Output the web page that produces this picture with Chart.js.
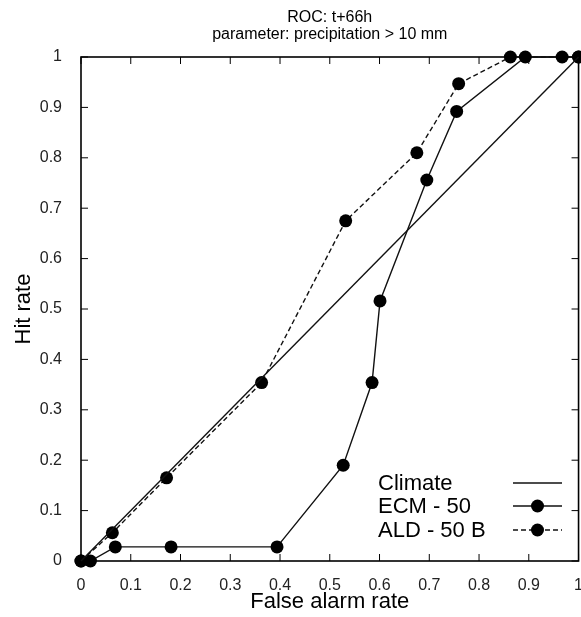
<!DOCTYPE html>
<html>
<head>
<meta charset="utf-8">
<script src="https://cdn.jsdelivr.net/npm/chart.js@4"></script>
<style>
  html, body { margin: 0; padding: 0; background: #fff; overflow: hidden; }
  canvas { display: block; }
</style>
</head>
<body>
<canvas id="roc" width="590" height="617"></canvas>
<script>
// ROC curve data (false alarm rate vs hit rate)
const climateX = [0, 1];
const climateY = [0, 1];

const ecmX = [0, 0.019, 0.069, 0.181, 0.394, 0.527, 0.585, 0.601, 0.695, 0.755, 0.893, 0.967, 1];
const ecmY = [0, 0, 0.028, 0.028, 0.028, 0.19, 0.354, 0.516, 0.756, 0.892, 1, 1, 1];

const aldX = [0, 0.063, 0.172, 0.363, 0.532, 0.675, 0.759, 0.863, 1];
const aldY = [0, 0.056, 0.165, 0.354, 0.675, 0.81, 0.947, 1, 1];

const tickValues = [0, 0.1, 0.2, 0.3, 0.4, 0.5, 0.6, 0.7, 0.8, 0.9, 1];
const titleLines = ['ROC: t+66h', 'parameter: precipitation > 10 mm'];
const legendLabels = ['Climate', 'ECM - 50', 'ALD - 50 B'];

const FONT = '"Liberation Sans", Arial, sans-serif';
const INK = '#111';

const toPoints = (xs, ys) => xs.map((x, i) => ({ x: x, y: ys[i] }));

// gnuplot style frame with inward ticks + legend in the bottom right
const framePlugin = {
    id: 'frame',
    beforeDatasetsDraw(chart) {
        const { ctx, chartArea: a, scales } = chart;
        ctx.save();
        ctx.strokeStyle = '#000';
        ctx.lineWidth = 1;
        ctx.beginPath();
        tickValues.forEach(v => {
            const px = scales.x.getPixelForValue(v);
            const py = scales.y.getPixelForValue(v);
            ctx.moveTo(px, a.bottom); ctx.lineTo(px, a.bottom - 7);
            ctx.moveTo(px, a.top); ctx.lineTo(px, a.top + 7);
            ctx.moveTo(a.left, py); ctx.lineTo(a.left + 7, py);
            ctx.moveTo(a.right, py); ctx.lineTo(a.right - 7, py);
        });
        ctx.stroke();
        ctx.lineWidth = 1.6;
        ctx.strokeRect(a.left, a.top, a.right - a.left, a.bottom - a.top);
        ctx.restore();
    },
    afterDraw(chart) {
        const { ctx } = chart;
        const rows = [483, 506, 530];
        ctx.save();
        ctx.font = '22px ' + FONT;
        ctx.fillStyle = '#000';
        ctx.textBaseline = 'middle';
        ctx.textAlign = 'left';
        legendLabels.forEach((label, i) => {
            const ds = chart.data.datasets[i];
            const y = rows[i];
            ctx.fillText(label, 378, y + 1);
            ctx.strokeStyle = ds.borderColor;
            ctx.lineWidth = ds.borderWidth;
            ctx.setLineDash(ds.borderDash || []);
            ctx.beginPath();
            ctx.moveTo(513, y);
            ctx.lineTo(562, y);
            ctx.stroke();
            ctx.setLineDash([]);
            if (ds.pointRadius > 0) {
                ctx.fillStyle = '#000';
                ctx.beginPath();
                ctx.arc(537.5, y, ds.pointRadius, 0, Math.PI * 2);
                ctx.fill();
            }
        });
        ctx.restore();
    }
};

new Chart(document.getElementById('roc'), {
    type: 'scatter',
    data: {
        datasets: [
            {
                label: legendLabels[0],
                data: toPoints(climateX, climateY),
                showLine: true,
                borderColor: INK,
                borderWidth: 1.4,
                pointRadius: 0,
                clip: false
            },
            {
                label: legendLabels[1],
                data: toPoints(ecmX, ecmY),
                showLine: true,
                borderColor: INK,
                borderWidth: 1.4,
                pointRadius: 6.5,
                pointBorderWidth: 0,
                pointBackgroundColor: '#000',
                clip: false
            },
            {
                label: legendLabels[2],
                data: toPoints(aldX, aldY),
                showLine: true,
                borderColor: INK,
                borderWidth: 1.4,
                borderDash: [5, 3],
                pointRadius: 6.5,
                pointBorderWidth: 0,
                pointBackgroundColor: '#000',
                clip: false
            }
        ]
    },
    options: {
        responsive: false,
        devicePixelRatio: 1,
        animation: false,
        layout: { padding: { left: 0, right: 8, top: 0, bottom: 0 } },
        plugins: {
            legend: { display: false },
            tooltip: { enabled: false },
            title: { display: false }
        },
        scales: {
            x: {
                type: 'linear',
                position: 'bottom',
                min: 0,
                max: 1,
                afterFit: s => { s.height = 56; },
                afterBuildTicks: s => { s.ticks = tickValues.map(v => ({ value: v })); },
                ticks: {
                    padding: 7,
                    color: '#222',
                    font: { family: FONT, size: 16 },
                    maxRotation: 0,
                    autoSkip: false,
                    callback: v => String(Math.round(v * 10) / 10)
                },
                grid: { display: false },
                border: { display: false },
                title: {
                    display: true,
                    text: 'False alarm rate',
                    color: '#000',
                    font: { family: FONT, size: 22 },
                    padding: { top: 0, bottom: 2 }
                }
            },
            top: {
                type: 'linear',
                position: 'top',
                min: 0,
                max: 1,
                afterFit: s => { s.height = 57; },
                ticks: { display: false },
                grid: { display: false },
                border: { display: false },
                title: {
                    display: true,
                    text: titleLines,
                    color: '#000',
                    font: { family: FONT, size: 16, lineHeight: 1.07 },
                    padding: { top: 9, bottom: 0 }
                }
            },
            y: {
                type: 'linear',
                position: 'left',
                min: 0,
                max: 1,
                afterFit: s => { s.width = 81; },
                afterBuildTicks: s => { s.ticks = tickValues.map(v => ({ value: v })); },
                ticks: {
                    padding: 11,
                    color: '#222',
                    font: { family: FONT, size: 16 },
                    autoSkip: false,
                    callback: v => String(Math.round(v * 10) / 10)
                },
                grid: { display: false },
                border: { display: false },
                title: {
                    display: true,
                    text: 'Hit rate',
                    color: '#000',
                    font: { family: FONT, size: 22 },
                    padding: { top: 11, bottom: 0 }
                }
            }
        }
    },
    plugins: [framePlugin]
});
</script>
</body>
</html>
